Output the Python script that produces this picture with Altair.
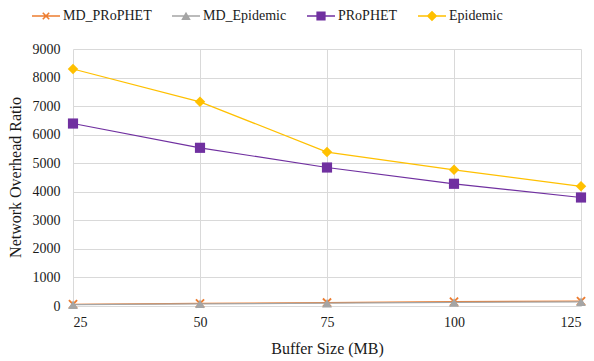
import altair as alt
import pandas as pd

buffer_sizes = [25, 50, 75, 100, 125]
series_names = ["MD_PRoPHET", "MD_Epidemic", "PRoPHET", "Epidemic"]
md_prophet = [60, 90, 120, 150, 170]
md_epidemic = [45, 75, 100, 125, 145]
prophet = [6390, 5540, 4850, 4280, 3800]
epidemic = [8300, 7150, 5390, 4770, 4190]
y_ticks = [0, 1000, 2000, 3000, 4000, 5000, 6000, 7000, 8000, 9000]

colors = ["#ED7D31", "#A5A5A5", "#7030A0", "#FFC000"]

rows = []
for name, vals in zip(series_names, [md_prophet, md_epidemic, prophet, epidemic]):
    for b, v in zip(buffer_sizes, vals):
        rows.append({"buffer": b, "value": v, "series": name, "marker": name})
df = pd.DataFrame(rows)

X_PATH = "M-1,-0.72L-0.72,-1L1,0.72L0.72,1Z M-1,0.72L0.72,-1L1,-0.72L-0.72,1Z"
point_shapes = [X_PATH, "triangle-up", "square", "diamond"]
point_sizes = [90, 110, 100, 121]

bar = "M-1,-0.05H1V0.05H-1Z "
k, w = 0.27, 0.08
legend_x = (f"M{-k},{-k+w}L{-k+w},{-k}L{k},{k-w}L{k-w},{k}Z "
            f"M{-k},{k-w}L{k-w},{-k}L{k},{-k+w}L{-k+w},{k}Z")
legend_shapes = [
    bar + legend_x,
    bar + "M0,-0.3L0.34,0.28H-0.34Z",
    bar + "M-0.33,-0.33H0.33V0.33H-0.33Z",
    bar + "M0,-0.38L0.38,0L0,0.38L-0.38,0Z",
]

FONT = "Liberation Serif, Times New Roman, serif"
TEXT = "#1a1a1a"

x_enc = alt.X("buffer:Q",
              scale=alt.Scale(domain=[25, 125], nice=False, zero=False),
              axis=alt.Axis(values=buffer_sizes, title="Buffer Size (MB)", format="d",
                            titleX=254, titleY=42, titleBaseline="middle",
                            labelPadding=9, labelFont=FONT, titleFont=FONT))
y_enc = alt.Y("value:Q",
              scale=alt.Scale(domain=[0, 9000], nice=False),
              axis=alt.Axis(values=y_ticks, title="Network Overhead Ratio", format="d",
                            titleX=-58, titleY=128, titleBaseline="middle",
                            titleAngle=-90, labelPadding=13, labelFont=FONT, titleFont=FONT))

legend_props = dict(title=None, orient="none", direction="horizontal",
                    legendX=-41, legendY=-47, symbolSize=784, symbolStrokeWidth=0,
                    labelFont=FONT, labelFontSize=14, labelColor=TEXT,
                    labelOffset=3, columnPadding=20, symbolOpacity=1)

base = alt.Chart(df)

lines = base.mark_line(strokeWidth=1.2).encode(
    x=x_enc, y=y_enc,
    color=alt.Color("series:N", scale=alt.Scale(domain=series_names, range=colors), legend=None),
    detail="series:N",
)

points = base.mark_point(filled=True, opacity=1, strokeWidth=0).encode(
    x=x_enc, y=y_enc,
    color=alt.Color("series:N", scale=alt.Scale(domain=series_names, range=colors), legend=None),
    shape=alt.Shape("marker:N", scale=alt.Scale(domain=series_names, range=point_shapes), legend=None),
    size=alt.Size("marker:N", scale=alt.Scale(domain=series_names, range=point_sizes), legend=None),
)

legend_layer = base.mark_point(filled=True, opacity=1, size=784, strokeWidth=0).encode(
    x=x_enc, y=y_enc,
    color=alt.Color("marker:N", scale=alt.Scale(domain=series_names, range=colors),
                    legend=alt.Legend(**legend_props)),
    shape=alt.Shape("marker:N", scale=alt.Scale(domain=series_names, range=legend_shapes),
                    legend=alt.Legend(**legend_props)),
).transform_filter("false")

chart = alt.layer(lines, points, legend_layer).resolve_scale(
    shape="independent", color="independent"
).properties(
    width=508, height=257,
    autosize=alt.AutoSizeParams(type="none"),
    padding={"left": 73, "top": 49, "right": 13, "bottom": 55},
).configure(
    font=FONT
).configure_axis(
    grid=True, gridColor="#D9D9D9", gridWidth=1,
    domain=False, ticks=False, tickSize=0,
    labelFont=FONT, labelFontSize=14, labelColor=TEXT,
    titleFont=FONT, titleFontSize=16, titleColor=TEXT, titleFontWeight="normal",
).configure_legend(
    labelFont=FONT
).configure_view(stroke=None)

chart.save("out.html", embed_options={"renderer": "svg", "actions": False})
